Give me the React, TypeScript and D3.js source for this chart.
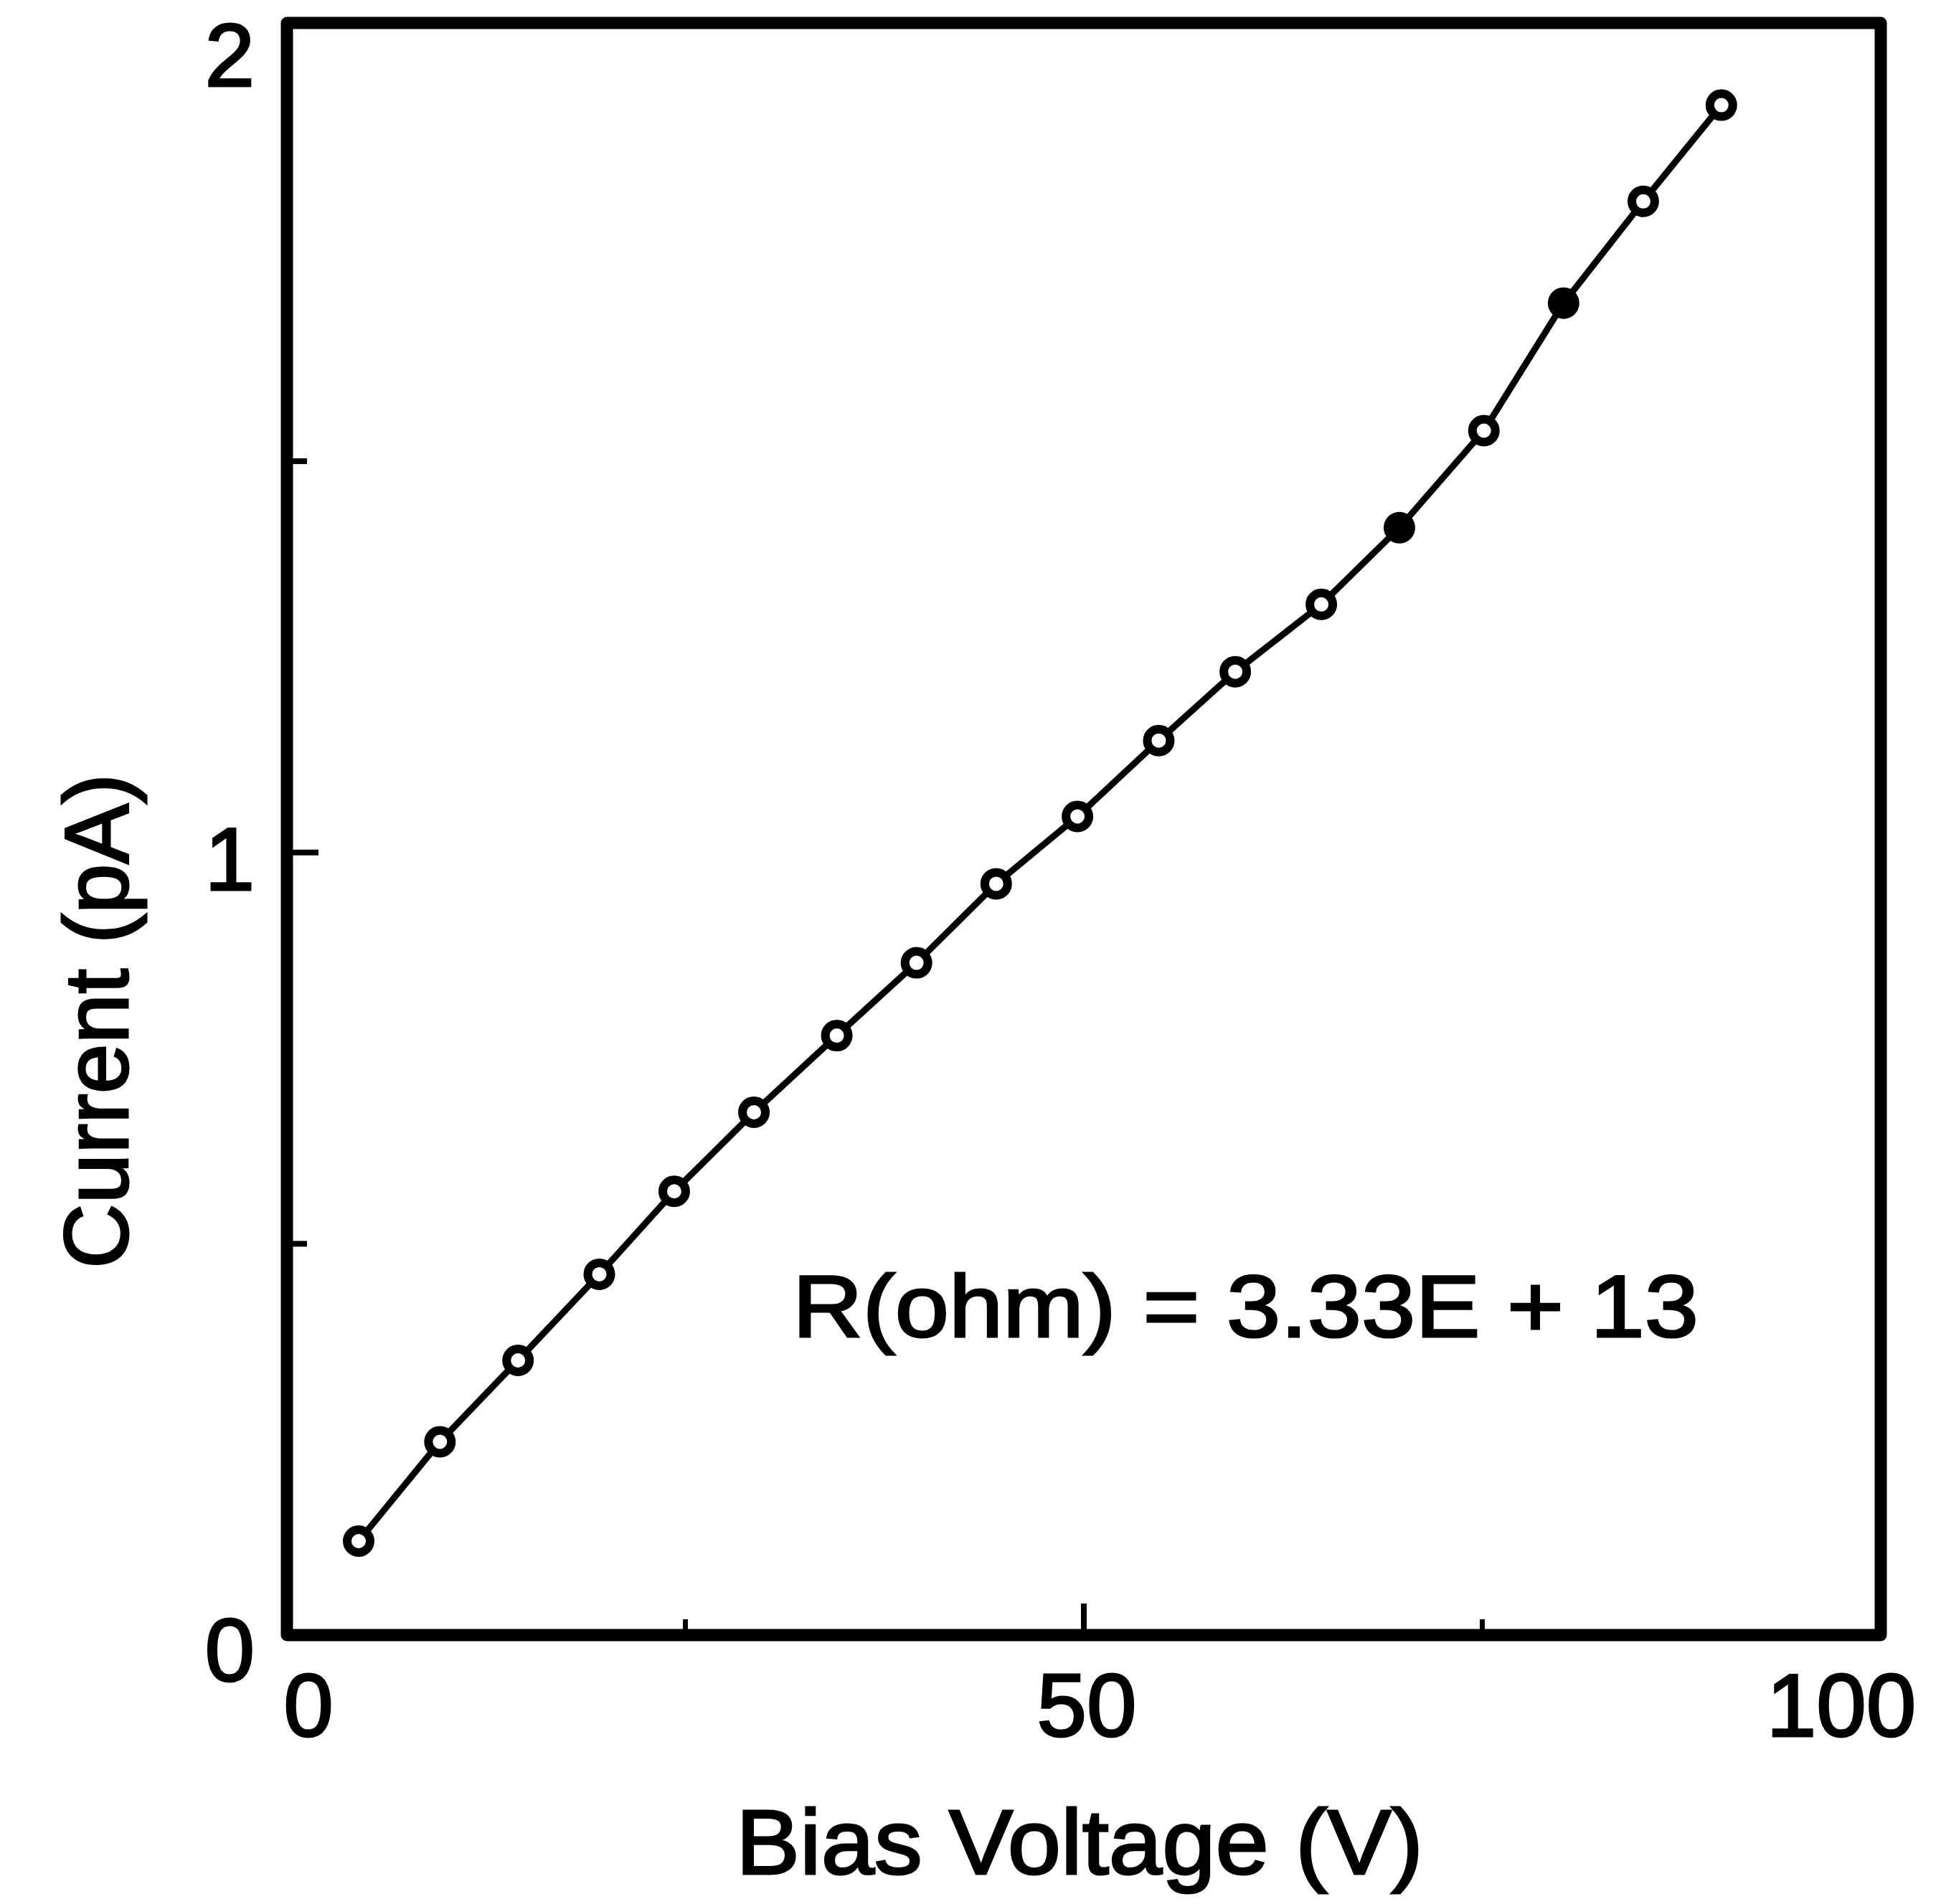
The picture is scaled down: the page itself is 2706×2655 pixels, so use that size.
import React from "react";
import * as d3 from "d3";

// ---- data ----
const biasVoltage = [4.5, 9.6, 14.5, 19.6, 24.3, 29.3, 34.5, 39.5, 44.5, 49.6, 54.7, 59.5, 64.9, 69.8, 75.1, 80.1, 85.1, 90.0];
const currentPA = [0.12, 0.247, 0.351, 0.461, 0.567, 0.668, 0.766, 0.859, 0.96, 1.046, 1.143, 1.231, 1.317, 1.415, 1.539, 1.702, 1.832, 1.955];
const xTickLabels = [0, 50, 100];
const xMinorTicks = [25, 75];
const yTickLabels = [0, 1, 2];
const yMinorTicks = [0.5, 1.5];
const xTitle = "Bias Voltage (V)";
const yTitle = "Current (pA)";
const annotation = "R(ohm) = 3.33E + 13";

// ---- style / layout ----
const W = 2706;
const H = 2655;
const FONT = "'Liberation Sans', Arial, Helvetica, sans-serif";
const TEXT_STROKE = 3;
const filledMarkers = new Set([13, 15]);
const xLabelDx: Record<number, number> = { 0: 30, 50: 4, 100: -55 };
const yLabelDy: Record<number, number> = { 0: 20, 1: 9, 2: -21 };

export default function App() {
  const x = d3.scaleLinear().domain([0, 100]).range([400, 2622]);
  const y = d3.scaleLinear().domain([0, 2.06]).range([2280, 32]);
  const pts = biasVoltage.map((v, i) => [v, currentPA[i]] as [number, number]);
  const line = d3
    .line<[number, number]>()
    .x((d) => x(d[0]))
    .y((d) => y(d[1]));

  const textProps = { fill: "#000", stroke: "#000", strokeWidth: TEXT_STROKE };

  return (
    <svg
      width={W}
      height={H}
      viewBox={`0 0 ${W} ${H}`}
      style={{ position: "absolute", left: 0, top: 0, background: "#fff" }}
      fontFamily={FONT}
    >
      <rect x={0} y={0} width={W} height={H} fill="#fff" />
      {/* frame */}
      <rect
        x={x(0)}
        y={y(2.06)}
        width={x(100) - x(0)}
        height={y(0) - y(2.06)}
        fill="none"
        stroke="#000"
        strokeWidth={17}
        strokeLinejoin="round"
      />
      {/* y ticks */}
      {yTickLabels
        .filter((v) => v > 0 && v < 2)
        .map((v) => (
          <line key={"yt" + v} x1={x(0)} x2={x(0) + 44} y1={y(v)} y2={y(v)} stroke="#000" strokeWidth={8} />
        ))}
      {yMinorTicks.map((v) => (
        <line key={"ym" + v} x1={x(0)} x2={x(0) + 28} y1={y(v)} y2={y(v)} stroke="#000" strokeWidth={8} />
      ))}
      {/* x ticks */}
      {xTickLabels
        .filter((v) => v > 0 && v < 100)
        .map((v) => (
          <line key={"xt" + v} x1={x(v)} x2={x(v)} y1={y(0)} y2={y(0) - 44} stroke="#000" strokeWidth={8} />
        ))}
      {xMinorTicks.map((v) => (
        <line key={"xm" + v} x1={x(v)} x2={x(v)} y1={y(0)} y2={y(0) - 22} stroke="#000" strokeWidth={7} />
      ))}
      {/* tick labels */}
      {yTickLabels.map((v) => (
        <text
          key={"yl" + v}
          x={x(0) - 45}
          y={y(v) + (yLabelDy[v] || 0)}
          textAnchor="end"
          dominantBaseline="central"
          fontSize={125}
          {...textProps}
        >
          {v}
        </text>
      ))}
      {xTickLabels.map((v) => (
        <text
          key={"xl" + v}
          x={x(v) + (xLabelDx[v] || 0)}
          y={y(0) + 141}
          textAnchor="middle"
          fontSize={125}
          {...textProps}
        >
          {v}
        </text>
      ))}
      {/* axis titles */}
      <text x={1505} y={2613} textAnchor="middle" fontSize={128} textLength={958} lengthAdjust="spacingAndGlyphs" {...textProps}>
        {xTitle}
      </text>
      <text
        transform={`translate(178,1424) rotate(-90)`}
        textAnchor="middle"
        fontSize={126}
        textLength={690}
        lengthAdjust="spacingAndGlyphs"
        {...textProps}
      >
        {yTitle}
      </text>
      {/* annotation */}
      <text x={1105} y={1864} fontSize={122} textLength={1263} lengthAdjust="spacingAndGlyphs" {...textProps}>
        {annotation}
      </text>
      {/* data line */}
      <path d={line(pts) || ""} fill="none" stroke="#000" strokeWidth={9} strokeLinejoin="round" />
      {pts.map((d, i) => (
        <circle
          key={"p" + i}
          cx={x(d[0])}
          cy={y(d[1])}
          r={filledMarkers.has(i) ? 22 : 16}
          fill={filledMarkers.has(i) ? "#000" : "#fff"}
          stroke="#000"
          strokeWidth={filledMarkers.has(i) ? 0 : 12}
        />
      ))}
    </svg>
  );
}
